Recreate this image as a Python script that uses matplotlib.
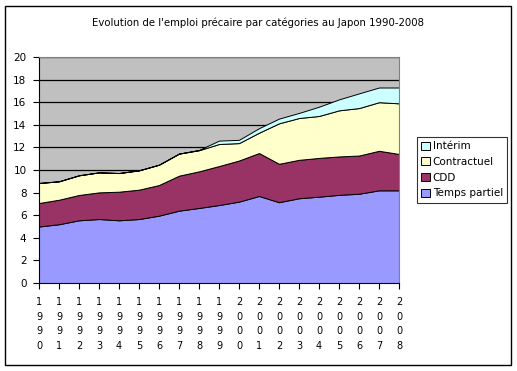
import matplotlib
matplotlib.use("Agg")
import matplotlib.pyplot as plt
import numpy as np
from matplotlib.patches import Patch, Rectangle


# -----
# DATA
# -----
years = list(range(1990, 2009))
temps_partiel = [5.0, 5.2, 5.55, 5.66, 5.55, 5.66, 5.96, 6.4, 6.64, 6.9, 7.2, 7.7, 7.15, 7.5, 7.64, 7.8, 7.9, 8.2, 8.2]
cdd = [2.08, 2.17, 2.24, 2.36, 2.53, 2.6, 2.71, 3.1, 3.24, 3.45, 3.64, 3.8, 3.4, 3.4, 3.43, 3.4, 3.38, 3.5, 3.22]
contractuel = [1.77, 1.63, 1.74, 1.77, 1.65, 1.71, 1.8, 1.95, 1.87, 1.95, 1.54, 1.8, 3.58, 3.7, 3.71, 4.08, 4.2, 4.3, 4.48]
interim = [0, 0, 0, 0, 0, 0, 0, 0, 0.03, 0.3, 0.29, 0.4, 0.42, 0.45, 0.82, 0.97, 1.3, 1.3, 1.4]

labels = ["Temps partiel", "CDD", "Contractuel", "Intérim"]
colors = ["#9999FF", "#993366", "#FFFFCC", "#CCFFFF"]
title = "Evolution de l'emploi précaire par catégories au Japon 1990-2008"


# ------
# CHART
# ------
W, H = 517, 371
fig = plt.figure(figsize=(W / 100, H / 100), dpi=100)
fig.patch.set_facecolor("white")

# outer frame of the chart
fig.patches.append(Rectangle((5 / W, 1 - 365 / H), 506 / W, 359 / H,
                             transform=fig.transFigure, fill=False,
                             edgecolor="black", linewidth=1.0))

ax = fig.add_axes([39 / W, 1 - 283 / H, 360 / W, 226 / H])
ax.set_facecolor("#C0C0C0")

x = np.arange(len(years))
ax.stackplot(x, temps_partiel, cdd, contractuel, interim,
             colors=colors, edgecolor="black", linewidth=0.7)

ax.set_xlim(0, len(years) - 1)
ax.set_ylim(0, 20)
ax.set_yticks(range(0, 21, 2))
ax.set_axisbelow(True)
ax.grid(axis="y", color="black", linewidth=0.9)

ax.set_xticks(x)
ax.set_xticklabels(["\n".join(str(y)) for y in years], linespacing=1.6)

ax.tick_params(axis="x", direction="out", length=4, width=0.8, labelsize=7, pad=6)
ax.tick_params(axis="y", direction="out", length=4, width=0.8, labelsize=7.5, pad=5)

ax.spines["top"].set_color("#808080")
ax.spines["right"].set_color("#808080")
ax.spines["left"].set_color("black")
ax.spines["bottom"].set_color("black")

fig.text(258 / W, 1 - 23 / H, title, ha="center", va="center", fontsize=7.3)

handles = [Patch(facecolor=c, edgecolor="black", linewidth=0.7, label=l)
           for c, l in zip(colors, labels)][::-1]
leg = fig.legend(handles=handles, loc="upper left",
                 bbox_to_anchor=(417 / W, 1 - 137 / H),
                 fontsize=7.5, frameon=True, fancybox=False,
                 handlelength=0.8, handleheight=0.8, handletextpad=0.3,
                 borderpad=0.4, labelspacing=0.55, borderaxespad=0)
leg.get_frame().set_edgecolor("black")
leg.get_frame().set_linewidth(0.8)

fig.savefig("out.png", dpi=100)
